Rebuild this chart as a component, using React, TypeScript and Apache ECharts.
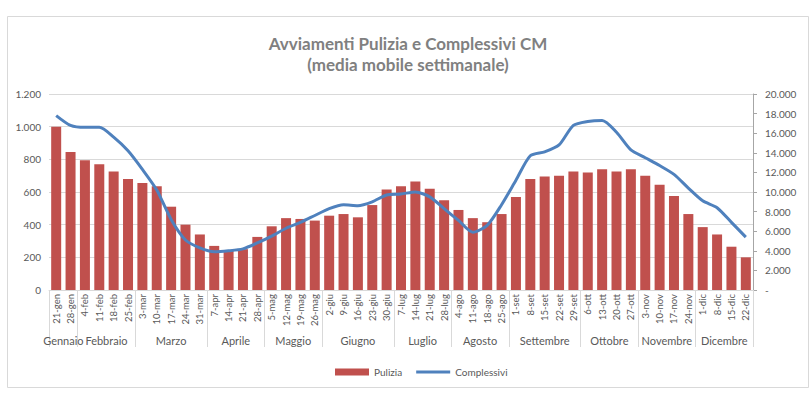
import React, { useEffect, useRef } from "react";
import * as echarts from "echarts";

const categories = [
  "21-gen", "28-gen",
  "4-feb", "11-feb", "18-feb", "25-feb",
  "3-mar", "10-mar", "17-mar", "24-mar", "31-mar",
  "7-apr", "14-apr", "21-apr", "28-apr",
  "5-mag", "12-mag", "19-mag", "26-mag",
  "2-giu", "9-giu", "16-giu", "23-giu", "30-giu",
  "7-lug", "14-lug", "21-lug", "28-lug",
  "4-ago", "11-ago", "18-ago", "25-ago",
  "1-set", "8-set", "15-set", "22-set", "29-set",
  "6-ott", "13-ott", "20-ott", "27-ott",
  "3-nov", "10-nov", "17-nov", "24-nov",
  "1-dic", "8-dic", "15-dic", "22-dic",
];

const monthNames = [
  "Gennaio", "Febbraio", "Marzo", "Aprile", "Maggio", "Giugno",
  "Luglio", "Agosto", "Settembre", "Ottobre", "Novembre", "Dicembre",
];
const monthCounts = [2, 4, 5, 4, 4, 5, 4, 4, 5, 4, 4, 4];

const pulizia = [
  1000, 845,
  795, 770, 725, 680,
  655, 635, 510, 400, 340,
  270, 240, 250, 325,
  390, 440, 435, 425,
  455, 465, 445, 520, 615,
  635, 665, 620, 550,
  490, 440, 415, 465,
  570, 680, 695, 700, 725,
  720, 740, 725, 740,
  700, 645, 575, 465,
  385, 340, 265, 200,
];

const complessivi = [
  17800, 16800,
  16600, 16600, 15600, 14200,
  12300, 10200, 7200, 5100, 4300,
  3900, 4000, 4200, 4800,
  5500, 6300, 6900, 7600,
  8300, 8700, 8600, 9000, 9700,
  9800, 10000, 9500, 8300,
  7100, 5900, 6600, 8700,
  11200, 13700, 14100, 14800, 16800,
  17200, 17300, 16100, 14300,
  13500, 12700, 11800, 10400,
  9100, 8400, 6900, 5400,
];

const leftTicks = { min: 0, max: 1200, interval: 200 };
const rightTicks = { min: 0, max: 20000, interval: 2000 };

const FONT = "Lato, 'Open Sans', sans-serif";
const TEXT = "#595959";
const GRIDC = "#d9d9d9";

function fmtThousands(v: number): string {
  return String(Math.round(v)).replace(/\B(?=(\d{3})+(?!\d))/g, ".");
}

export default function App() {
  const ref = useRef<HTMLDivElement>(null);

  useEffect(() => {
    if (!ref.current) return;
    const chart = echarts.init(ref.current, undefined, { renderer: "svg" });

    const monthAxisData: string[] = new Array(categories.length * 2 + 1).fill("");
    const boundaries = new Set<number>();
    let start = 0;
    boundaries.add(0);
    monthNames.forEach((m, i) => {
      const n = monthCounts[i];
      monthAxisData[2 * start + n] = m;
      start += n;
      boundaries.add(2 * start);
    });

    chart.setOption({
      animation: false,
      backgroundColor: "#ffffff",
      textStyle: { fontFamily: FONT },
      graphic: [
        {
          type: "rect",
          shape: { x: 7.5, y: 16.5, width: 801, height: 371 },
          style: { fill: "none", stroke: GRIDC, lineWidth: 1 },
          silent: true,
        },
        {
          type: "text",
          x: 408,
          y: 43,
          style: {
            text: "Avviamenti Pulizia e Complessivi CM",
            font: `bold 17px ${FONT}`,
            fill: "#808080",
            textAlign: "center",
            textVerticalAlign: "middle",
          },
        },
        {
          type: "text",
          x: 408,
          y: 64,
          style: {
            text: "(media mobile settimanale)",
            font: `bold 17px ${FONT}`,
            fill: "#808080",
            textAlign: "center",
            textVerticalAlign: "middle",
          },
        },
      ],
      legend: {
        left: 330,
        top: 362,
        itemWidth: 34,
        itemHeight: 7,
        itemGap: 14,
        symbolKeepAspect: true,
        textStyle: { fontFamily: FONT, fontSize: 10, color: TEXT },
        data: [
          { name: "Pulizia", icon: "rect" },
          {
            name: "Complessivi",
            icon: "path://M0,0L34,0L34,3L0,3Z",
            itemStyle: { color: "#4f81bd" },
          },
        ],
      },
      grid: { left: 49, right: 59, top: 94, bottom: 105, containLabel: false },
      xAxis: [
        {
          type: "category",
          data: categories,
          position: "bottom",
          axisLine: { show: true, lineStyle: { color: GRIDC, width: 1 } },
          axisTick: { show: false },
          axisLabel: {
            interval: 0,
            rotate: 90,
            margin: 4,
            fontSize: 9.5,
            color: TEXT,
            fontFamily: FONT,
          },
        },
        {
          type: "category",
          data: monthAxisData,
          position: "bottom",
          boundaryGap: false,
          axisLine: { show: false },
          axisTick: {
            show: true,
            inside: false,
            length: 57,
            interval: (idx: number) => boundaries.has(idx),
            lineStyle: { color: GRIDC, width: 1 },
          },
          axisLabel: {
            interval: (idx: number, val: string) => val !== "",
            margin: 45,
            fontSize: 11,
            color: TEXT,
            fontFamily: FONT,
          },
          splitLine: { show: false },
        },
      ],
      yAxis: [
        {
          type: "value",
          position: "left",
          min: leftTicks.min,
          max: leftTicks.max,
          interval: leftTicks.interval,
          axisLine: { show: false },
          axisTick: { show: false },
          axisLabel: {
            margin: 8,
            fontSize: 10,
            color: TEXT,
            fontFamily: FONT,
            formatter: (v: number) => fmtThousands(v),
          },
          splitLine: { show: true, lineStyle: { color: GRIDC, width: 1 } },
        },
        {
          type: "value",
          position: "right",
          min: rightTicks.min,
          max: rightTicks.max,
          interval: rightTicks.interval,
          axisLine: { show: true, lineStyle: { color: "#a6a6a6", width: 1 } },
          axisTick: { show: true, length: 4, lineStyle: { color: "#a6a6a6" } },
          axisLabel: {
            margin: 12,
            fontSize: 10,
            color: TEXT,
            fontFamily: FONT,
            formatter: (v: number) => (v === 0 ? "-" : fmtThousands(v)),
          },
          splitLine: { show: false },
        },
      ],
      series: [
        {
          name: "Pulizia",
          type: "bar",
          xAxisIndex: 0,
          yAxisIndex: 0,
          data: pulizia,
          barWidth: 10,
          itemStyle: { color: "#c0504d" },
        },
        {
          name: "Complessivi",
          type: "line",
          xAxisIndex: 0,
          yAxisIndex: 1,
          data: complessivi,
          smooth: 0.25,
          symbol: "none",
          lineStyle: { color: "#4f81bd", width: 3 },
          itemStyle: { color: "#4f81bd" },
        },
      ],
    });

    return () => chart.dispose();
  }, []);

  return (
    <div
      ref={ref}
      style={{ position: "absolute", left: 0, top: 0, width: 812, height: 395 }}
    />
  );
}
